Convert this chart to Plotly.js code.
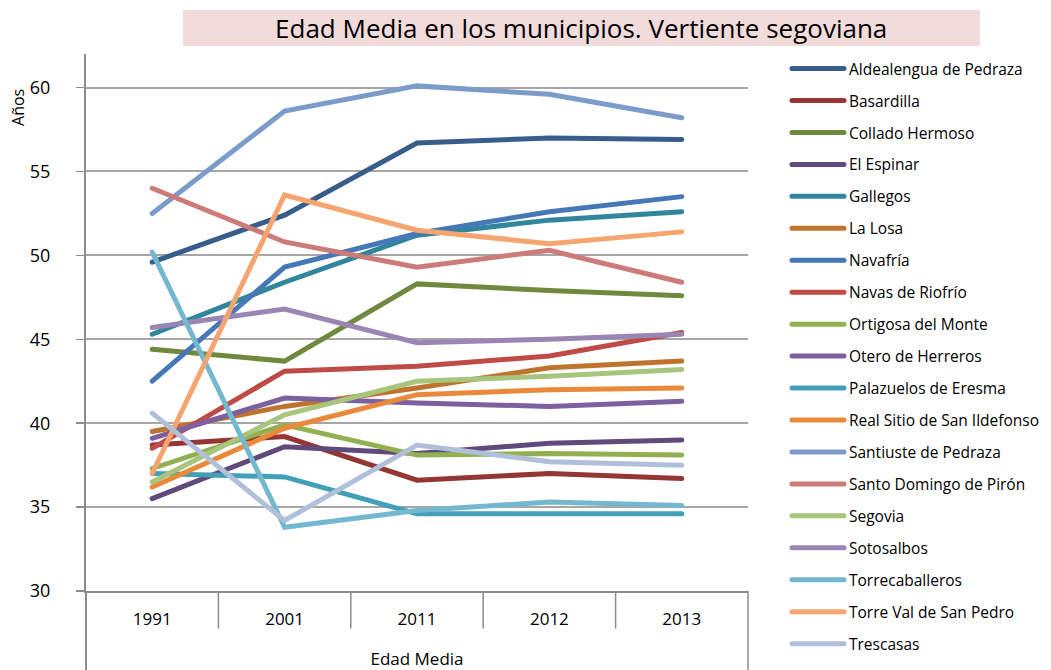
<!DOCTYPE html>
<html>
<head>
<meta charset="utf-8">
<script src="https://cdn.plot.ly/plotly-3.0.1.min.js"></script>
<style>
html, body { margin: 0; padding: 0; background: #ffffff; }
#chart { width: 1051px; height: 670px; }
path.js-line { stroke-linecap: round; }
</style>
</head>
<body>
<div id="chart"></div>
<script>
// Categories (x axis)
const years = ["1991", "2001", "2011", "2012", "2013"];

// Series names (legend order)
const municipios = [
  "Aldealengua de Pedraza", "Basardilla", "Collado Hermoso", "El Espinar",
  "Gallegos", "La Losa", "Navafría", "Navas de Riofrío", "Ortigosa del Monte",
  "Otero de Herreros", "Palazuelos de Eresma", "Real Sitio de San Ildefonso",
  "Santiuste de Pedraza", "Santo Domingo de Pirón", "Segovia", "Sotosalbos",
  "Torrecaballeros", "Torre Val de San Pedro", "Trescasas"
];

// Values (average age, years)
const aldealengua      = [49.6, 52.4, 56.7, 57.0, 56.9];
const basardilla       = [38.7, 39.2, 36.6, 37.0, 36.7];
const colladoHermoso   = [44.4, 43.7, 48.3, 47.9, 47.6];
const elEspinar        = [35.5, 38.6, 38.2, 38.8, 39.0];
const gallegos         = [45.3, 48.4, 51.2, 52.1, 52.6];
const laLosa           = [39.5, 41.0, 42.1, 43.3, 43.7];
const navafria         = [42.5, 49.3, 51.3, 52.6, 53.5];
const navasRiofrio     = [38.5, 43.1, 43.4, 44.0, 45.4];
const ortigosa         = [37.3, 39.9, 38.1, 38.2, 38.1];
const oteroHerreros    = [39.1, 41.5, 41.2, 41.0, 41.3];
const palazuelos       = [37.0, 36.8, 34.6, 34.6, 34.6];
const realSitio        = [36.2, 39.7, 41.7, 42.0, 42.1];
const santiuste        = [52.5, 58.6, 60.1, 59.6, 58.2];
const santoDomingo     = [54.0, 50.8, 49.3, 50.3, 48.4];
const segovia          = [36.5, 40.5, 42.5, 42.8, 43.2];
const sotosalbos       = [45.7, 46.8, 44.8, 45.0, 45.3];
const torrecaballeros  = [50.2, 33.8, 34.8, 35.3, 35.1];
const torreVal         = [37.0, 53.6, 51.5, 50.7, 51.4];
const trescasas        = [40.6, 34.2, 38.7, 37.7, 37.5];

const seriesValues = [
  aldealengua, basardilla, colladoHermoso, elEspinar, gallegos, laLosa,
  navafria, navasRiofrio, ortigosa, oteroHerreros, palazuelos, realSitio,
  santiuste, santoDomingo, segovia, sotosalbos, torrecaballeros, torreVal, trescasas
];

const colors = [
  "#385D8A", "#943634", "#71893F", "#5F4A7B", "#31859C", "#C0732F",
  "#4678B7", "#BE4B48", "#92B050", "#7D60A0", "#41A0B8", "#E8893B",
  "#7B9CCB", "#CC7B79", "#A8C57D", "#9A86B4", "#74B8CF", "#F7A570", "#B0C0DA"
];

const traces = municipios.map((name, i) => ({
  type: "scatter",
  mode: "lines",
  name: name,
  legendgroup: name,
  x: years,
  y: seriesValues[i],
  line: { color: colors[i], width: 5 },
  hoverinfo: "x+y+name"
}));

const gridColor = "#A6A6A6";
const axisColor = "#8C8C8C";

// Category dividers below the x axis (at category boundaries)
const shapes = [];
for (let i = 1; i < years.length; i++) {
  shapes.push({
    type: "line", xref: "x", yref: "paper",
    x0: i - 0.5, x1: i - 0.5, y0: 0, y1: -0.07,
    line: { color: axisColor, width: 1.5 }, layer: "below"
  });
}
// y axis line extended downwards, and right border of category area
shapes.push({ type: "line", xref: "paper", yref: "paper", x0: 0, x1: 0, y0: 0, y1: -0.16,
  line: { color: axisColor, width: 2 } });
shapes.push({ type: "line", xref: "paper", yref: "paper", x0: 1, x1: 1, y0: 0, y1: -0.16,
  line: { color: axisColor, width: 1.5 } });
// Title background box
shapes.push({ type: "rect", xref: "paper", yref: "paper",
  x0: 0.1465, x1: 1.3505, y0: 1.015, y1: 1.082,
  fillcolor: "#F2DCDB", line: { width: 0 }, layer: "below" });

const layout = {
  width: 1051, height: 670,
  margin: { l: 86, r: 303, t: 54, b: 79, pad: 0, autoexpand: false },
  paper_bgcolor: "#ffffff",
  plot_bgcolor: "#ffffff",
  font: { family: "Open Sans, sans-serif", color: "#000000" },
  showlegend: true,
  title: {
    text: "Edad Media en los municipios. Vertiente segoviana",
    font: { family: "Liberation Sans Narrow, Open Sans, sans-serif", size: 26, color: "#000000" },
    x: 0.553, xref: "container", xanchor: "center",
    y: 0.957, yref: "container", yanchor: "middle"
  },
  xaxis: {
    type: "category",
    categoryorder: "array", categoryarray: years,
    range: [-0.5, years.length - 0.5],
    showgrid: false,
    showline: true, linecolor: axisColor, linewidth: 2,
    ticks: "",
    tickfont: { size: 17, color: "#000000" },
    ticklabelstandoff: 12,
    title: { text: "Edad Media", font: { size: 17, color: "#000000" }, standoff: 26 },
    zeroline: false,
    fixedrange: true
  },
  yaxis: {
    range: [30, 62],
    dtick: 5, tick0: 30,
    showgrid: true, gridcolor: gridColor, gridwidth: 2,
    showline: true, linecolor: axisColor, linewidth: 2,
    ticks: "outside", ticklen: 8, tickcolor: axisColor, tickwidth: 1.5,
    tickfont: { size: 18, color: "#000000" },
    ticklabelstandoff: 22,
    zeroline: false,
    fixedrange: true
  },
  legend: {
    xref: "container", yref: "container",
    x: 0.7488, xanchor: "left",
    y: 0.9224, yanchor: "top",
    font: { size: 15.5, color: "#000000" },
    traceorder: "grouped",
    tracegroupgap: 8.8,
    itemwidth: 52,
    maxheight: 660,
    bgcolor: "rgba(0,0,0,0)"
  },
  annotations: [{
    text: "Años", xref: "paper", yref: "paper",
    x: -0.103, y: 0.901, xanchor: "center", yanchor: "middle",
    textangle: -90, showarrow: false,
    font: { size: 16, color: "#000000" }
  }],
  shapes: shapes
};

Plotly.newPlot("chart", traces, layout, { displayModeBar: false, staticPlot: true });
</script>
</body>
</html>
